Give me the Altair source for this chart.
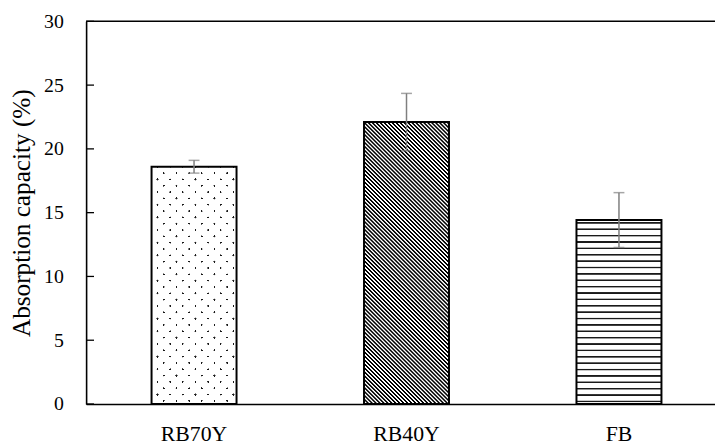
import math
import altair as alt
import pandas as pd

# ---- data ----
categories = ["RB70Y", "RB40Y", "FB"]
means = [18.6, 22.1, 14.42]
errors = [0.5, 2.25, 2.15]
y_ticks = [0, 5, 10, 15, 20, 25, 30]

# ---- layout (style) ----
W, H = 636, 387
Y_MAX = 30
P_INNER, P_OUTER, ALIGN = 0.6, 0.28, 0.55
step = W / (len(categories) - P_INNER + 2 * P_OUTER)
bw = step * (1 - P_INNER)
px_per_unit = H / Y_MAX
FONT = "Liberation Serif"

df = pd.DataFrame({
    "cat": categories,
    "mean": means,
    "lo": [m - e for m, e in zip(means, errors)],
    "hi": [m + e for m, e in zip(means, errors)],
})
ticks_df = pd.DataFrame({"v": y_ticks})


def stripe_stops(total, period, phase, lw, on, off, ramp=0.0):
    """Gradient stops: lines of width lw (plus soft ramp) every `period` along [0,total]."""
    stops = [{"offset": 0, "color": off}]
    c = phase - period * math.ceil((phase + lw + 2 * ramp) / period)

    def clip(p):
        return min(max(p, 0), total) / total

    while c - lw / 2 - ramp < total:
        pts = [(c - lw / 2 - ramp, off), (c - lw / 2, on), (c + lw / 2, on), (c + lw / 2 + ramp, off)]
        if c + lw / 2 + ramp > 0:
            for p, col in pts:
                stops.append({"offset": clip(p), "color": col})
        c += period
    stops.append({"offset": 1, "color": off})
    return stops


def grad_plus(w, h, stops):
    # isolines X + Y = const ("/" lines)
    k = (w + h) / (w * w + h * h)
    return {"gradient": "linear", "x1": 0, "y1": 0, "x2": w * k, "y2": h * k, "stops": stops}


def grad_minus(w, h, stops):
    # isolines X - Y = const ("\" lines)
    k = (w + h) / (w * w + h * h)
    return {"gradient": "linear", "x1": 0, "y1": 1, "x2": w * k, "y2": 1 - h * k, "stops": stops}


# RB70Y: dotted (intersection of two diagonal line families)
h1 = means[0] * px_per_unit
gA = grad_plus(bw, h1, stripe_stops(bw + h1, 12.8, 6.0, 2.0, "#1a1a1a", "white", 0.3))
gB = grad_minus(bw, h1, stripe_stops(bw + h1, 12.8, 6.0 + h1 % 12.8, 2.0,
                                     "rgba(255,255,255,0)", "white", 0.3))
# RB40Y: dense diagonal hatch
h2 = means[1] * px_per_unit
gC = grad_minus(bw, h2, stripe_stops(bw + h2, 4.0, 1.0, 1.3, "black", "white", 0.8))
# FB: horizontal lines every 0.5 units
h3 = means[2] * px_per_unit
line_pos = []
v = 0.2
while v < means[2] - 0.1:
    line_pos.append((means[2] - v) * px_per_unit)
    v += 0.5
stopsD = [{"offset": 0, "color": "white"}]
for yy in sorted(line_pos):
    for p, col in [(yy - 1.1, "white"), (yy - 0.5, "#1a1a1a"), (yy + 0.5, "#1a1a1a"), (yy + 1.1, "white")]:
        stopsD.append({"offset": min(max(p, 0), h3) / h3, "color": col})
stopsD.append({"offset": 1, "color": "white"})
gD = {"gradient": "linear", "x1": 0, "y1": 0, "x2": 0, "y2": 1, "stops": stopsD}

xaxis = alt.Axis(title=None, labelFont=FONT, labelFontSize=22, labelColor="black",
                 labelAngle=0, labelBaseline="middle", labelPadding=30,
                 ticks=False, tickSize=0, domainColor="black", domainWidth=1.6)
yaxis = alt.Axis(title="Absorption capacity (%)", values=y_ticks, grid=False,
                 ticks=False, tickSize=0, labelPadding=23, labelFont=FONT,
                 labelFontSize=20, labelColor="black", domainColor="black",
                 domainWidth=1.6, titleFont=FONT, titleFontSize=25.5,
                 titleFontWeight="normal", titleColor="black",
                 titleX=-65, titleY=H / 2, titleBaseline="middle")

xs = alt.Scale(domain=categories, paddingInner=P_INNER, paddingOuter=P_OUTER, align=ALIGN)
ys = alt.Scale(domain=[0, Y_MAX], nice=False)

X = alt.X("cat:N", sort=categories, scale=xs, axis=xaxis)

base = alt.Chart(df)


def bar_layer(cat, fill, stroke=True):
    kw = dict(fill=fill)
    if stroke:
        kw.update(stroke="black", strokeWidth=2)
    else:
        kw.update(strokeWidth=0)
    return base.transform_filter(alt.datum.cat == cat).mark_bar(**kw).encode(
        x=X, y=alt.Y("mean:Q", scale=ys, axis=yaxis))


barA = bar_layer("RB70Y", gA, stroke=False)
barB = bar_layer("RB70Y", gB)
barC = bar_layer("RB40Y", gC)
barD = bar_layer("FB", gD)

err = base.mark_rule(color="#7f7f7f", strokeWidth=1.5).encode(
    x=X, y=alt.Y("lo:Q", scale=ys, axis=yaxis), y2="hi:Q")
cap_hi = base.mark_tick(color="#7f7f7f", size=11, thickness=1.5, orient="horizontal").encode(
    x=X, y=alt.Y("hi:Q", scale=ys, axis=yaxis))
cap_lo = base.mark_tick(color="#7f7f7f", size=11, thickness=1.5, orient="horizontal").encode(
    x=X, y=alt.Y("lo:Q", scale=ys, axis=yaxis))

inner_ticks = alt.Chart(ticks_df).mark_rule(color="black", strokeWidth=1.3).encode(
    y=alt.Y("v:Q", scale=ys, axis=yaxis), x=alt.value(0), x2=alt.value(8))
top_line = alt.Chart(ticks_df).transform_filter(alt.datum.v == Y_MAX).mark_rule(
    color="black", strokeWidth=1.6).encode(y=alt.Y("v:Q", scale=ys, axis=yaxis))

chart = alt.layer(barA, barB, barC, barD, err, cap_hi, cap_lo, inner_ticks, top_line).properties(
    width=W, height=H,
    autosize=alt.AutoSizeParams(type="none"),
    padding={"left": 79, "top": 11, "right": 0, "bottom": 40},
    background="white",
).configure_view(stroke=None)

chart.save("out.html", embed_options={"renderer": "svg", "actions": False})
